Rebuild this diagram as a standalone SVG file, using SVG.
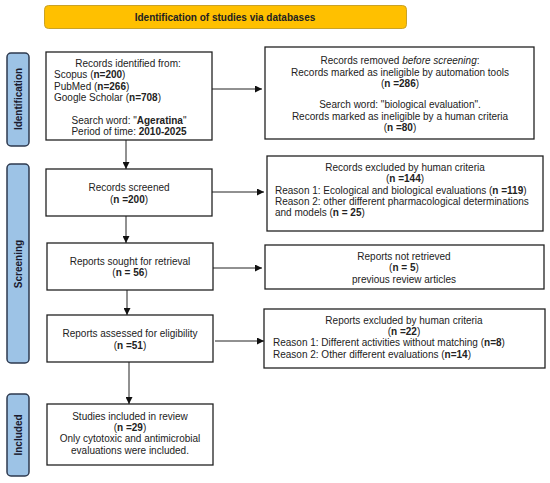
<svg xmlns="http://www.w3.org/2000/svg" width="550" height="483" viewBox="0 0 550 483">
<style>
text{font-family:"Liberation Sans",Arial,sans-serif;font-size:10px;fill:#222}
.c{text-anchor:middle}
.b{font-weight:bold}
.box{fill:#fff;stroke:#222;stroke-width:1.3}
.side{fill:#9dc3e6;stroke:#2e3a4f;stroke-width:1.5}
.st{font-weight:bold;font-size:10px;fill:#1a1a2e;text-anchor:middle}
.ln{stroke:#222;stroke-width:1;fill:none}
</style>
<defs>
<marker id="ah" viewBox="0 0 10 10" refX="10" refY="5" markerWidth="7" markerHeight="7" markerUnits="userSpaceOnUse" orient="auto"><path d="M0,0 L10,5 L0,10 z" fill="#111"/></marker>
</defs>
<g id="title">
<rect x="44.5" y="5.5" width="362" height="23" rx="4" fill="#ffc000" stroke="#c9a227" stroke-width="1"/>
<text x="225" y="20.5" class="c b">Identification of studies via databases</text>
</g>
<g id="side-identification">
<rect x="7" y="53" width="22" height="93" rx="4" class="side"/>
<text class="st" transform="translate(21.5,99) rotate(-90)">Identification</text>
</g>
<g id="side-screening">
<rect x="7" y="164" width="22" height="199" rx="4" class="side"/>
<text class="st" transform="translate(21.5,264) rotate(-90)">Screening</text>
</g>
<g id="side-included">
<rect x="7" y="394" width="22" height="82" rx="4" class="side"/>
<text class="st" transform="translate(21.5,435) rotate(-90)">Included</text>
</g>
<g id="n-identified">
<rect x="46" y="52" width="166" height="88" class="box"/>
<text x="128" y="66.5" class="c">Records identified from:</text>
<text x="54" y="78">Scopus (<tspan class="b">n=200</tspan>)</text>
<text x="54" y="89.5">PubMed (<tspan class="b">n=266</tspan>)</text>
<text x="54" y="101">Google Scholar (<tspan class="b">n=708</tspan>)</text>
<text x="129" y="123.5" class="c">Search word: "<tspan class="b">Ageratina</tspan>"</text>
<text x="129" y="135" class="c">Period of time: <tspan class="b">2010-2025</tspan></text>
</g>
<g id="n-removed">
<rect x="265" y="47" width="269" height="92" class="box"/>
<text x="400" y="64" class="c">Records removed <tspan font-style="italic">before screening</tspan>:</text>
<text x="400" y="75.5" class="c">Records marked as ineligible by automation tools</text>
<text x="400" y="86.5" class="c">(<tspan class="b">n =286</tspan>)</text>
<text x="400" y="108" class="c">Search word: "biological evaluation".</text>
<text x="400" y="119.5" class="c">Records marked as ineligible by a human criteria</text>
<text x="400" y="131" class="c">(<tspan class="b">n =80</tspan>)</text>
</g>
<g id="n-screened">
<rect x="46" y="169" width="166" height="47" class="box"/>
<text x="129" y="191" class="c">Records screened</text>
<text x="129" y="202.5" class="c">(<tspan class="b">n =200</tspan>)</text>
</g>
<g id="n-excluded">
<rect x="267" y="156" width="276" height="75" class="box"/>
<text x="405" y="170.5" class="c">Records excluded by human criteria</text>
<text x="405" y="182" class="c">(<tspan class="b">n =144</tspan>)</text>
<text x="275" y="194">Reason 1: Ecological and biological evaluations (<tspan class="b">n =119</tspan>)</text>
<text x="275" y="205">Reason 2: other different pharmacological determinations</text>
<text x="275" y="216">and models (<tspan class="b">n = 25</tspan>)</text>
</g>
<g id="n-sought">
<rect x="47" y="243" width="166" height="47" class="box"/>
<text x="130" y="264.5" class="c">Reports sought for retrieval</text>
<text x="130" y="276" class="c">(<tspan class="b">n = 56</tspan>)</text>
</g>
<g id="n-notretrieved">
<rect x="265" y="245" width="279" height="44" class="box"/>
<text x="404" y="260" class="c">Reports not retrieved</text>
<text x="404" y="271" class="c">(<tspan class="b">n = 5</tspan>)</text>
<text x="404" y="282.5" class="c">previous review articles</text>
</g>
<g id="n-assessed">
<rect x="47" y="315" width="166" height="47" class="box"/>
<text x="130" y="336.5" class="c">Reports assessed for eligibility</text>
<text x="130" y="348.5" class="c">(<tspan class="b">n =51</tspan>)</text>
</g>
<g id="n-reportsexcluded">
<rect x="264" y="309" width="281" height="59" class="box"/>
<text x="404" y="323.5" class="c">Reports excluded by human criteria</text>
<text x="404" y="335" class="c">(<tspan class="b">n =22</tspan>)</text>
<text x="273" y="346">Reason 1: Different activities without matching (<tspan class="b">n=8</tspan>)</text>
<text x="273" y="357.5">Reason 2: Other different evaluations (<tspan class="b">n=14</tspan>)</text>
</g>
<g id="n-included">
<rect x="47" y="404" width="166" height="61" class="box"/>
<text x="130" y="419.5" class="c">Studies included in review</text>
<text x="130" y="430.5" class="c">(<tspan class="b">n =29</tspan>)</text>
<text x="130" y="441.5" class="c">Only cytotoxic and antimicrobial</text>
<text x="130" y="453.5" class="c">evaluations were included.</text>
</g>
<g id="connectors">
<line x1="212" y1="89" x2="262" y2="89" class="ln" marker-end="url(#ah)"/>
<line x1="126" y1="140" x2="126" y2="169" class="ln" marker-end="url(#ah)"/>
<line x1="212" y1="192" x2="264" y2="192" class="ln" marker-end="url(#ah)"/>
<line x1="126" y1="216" x2="126" y2="243" class="ln" marker-end="url(#ah)"/>
<line x1="213" y1="268" x2="262" y2="268" class="ln" marker-end="url(#ah)"/>
<line x1="127" y1="290" x2="127" y2="315" class="ln" marker-end="url(#ah)"/>
<line x1="215" y1="341" x2="264" y2="341" class="ln" marker-end="url(#ah)"/>
<line x1="129" y1="362" x2="129" y2="404" class="ln" marker-end="url(#ah)"/>
</g>
</svg>
